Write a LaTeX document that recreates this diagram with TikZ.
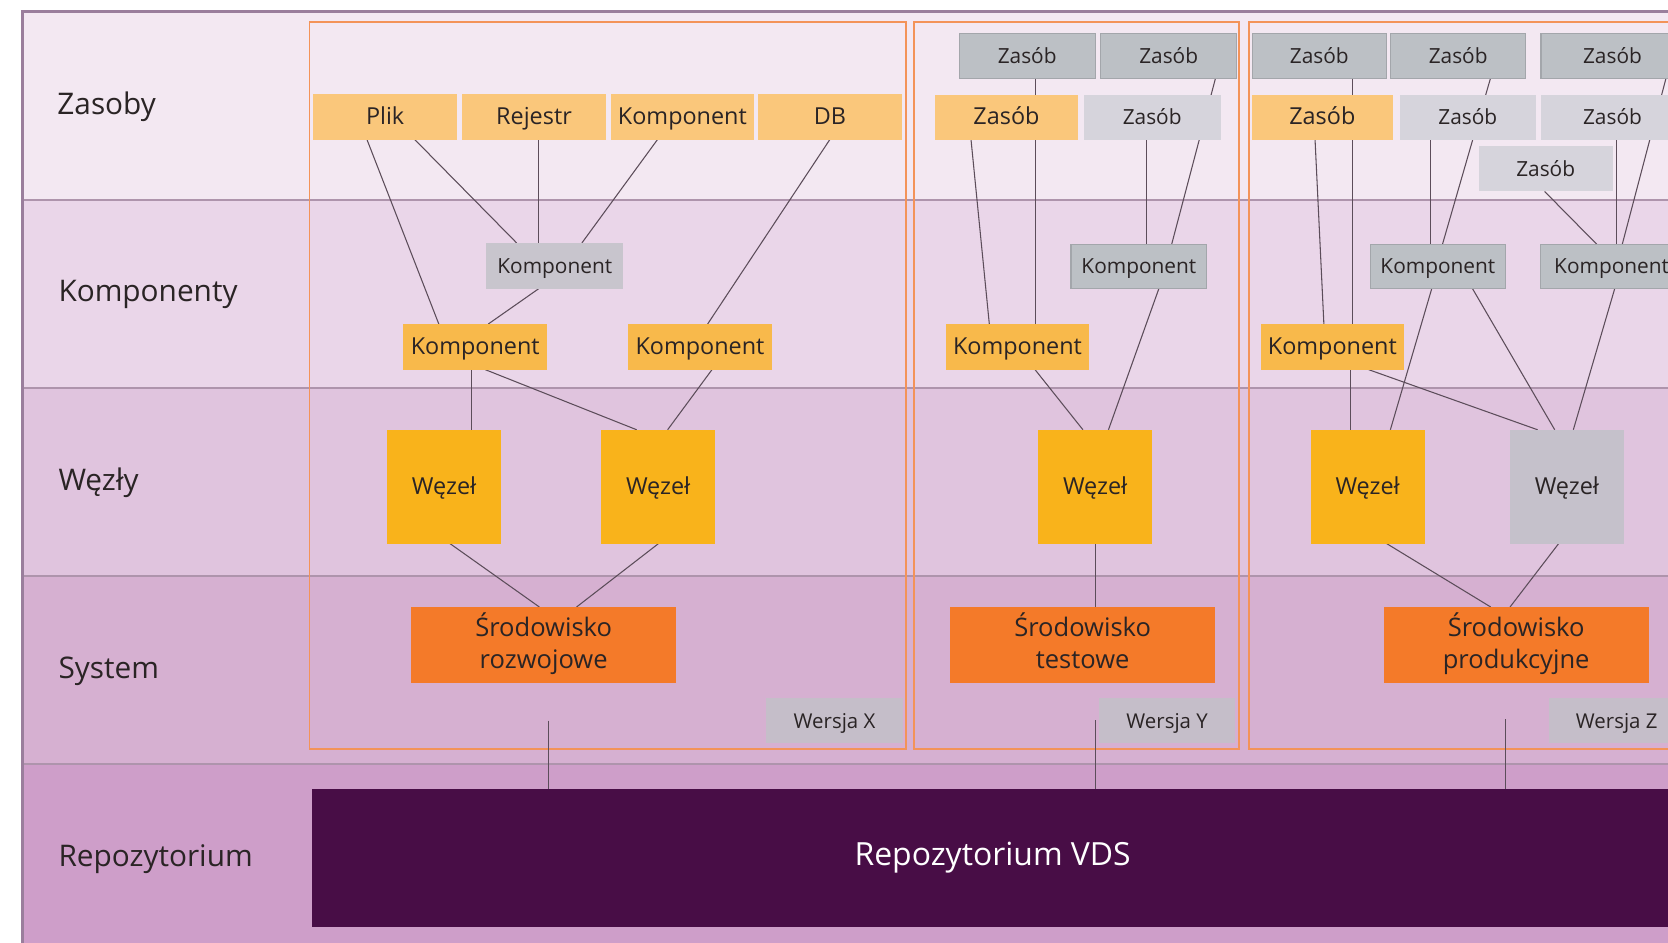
\documentclass[tikz,border=0pt]{standalone}
\usepackage{fontspec}
\setmainfont{Open Sans}
\definecolor{laneA}{HTML}{F3E8F2}
\definecolor{laneB}{HTML}{EAD6E9}
\definecolor{laneC}{HTML}{E0C4DE}
\definecolor{laneD}{HTML}{D6B0D1}
\definecolor{laneE}{HTML}{CE9EC9}
\definecolor{framecol}{HTML}{9A7E9C}
\definecolor{sepcol}{HTML}{AE94AC}
\definecolor{panelcol}{HTML}{F39359}
\definecolor{lorange}{HTML}{FAC77B}
\definecolor{morange}{HTML}{F8B94B}
\definecolor{wezelcol}{HTML}{F9B31B}
\definecolor{srodcol}{HTML}{F47A29}
\definecolor{grayA}{HTML}{BCC0C5}
\definecolor{grayAb}{HTML}{A3A6AB}
\definecolor{grayB}{HTML}{C8C5CD}
\definecolor{grayL}{HTML}{D6D4DC}
\definecolor{grayW}{HTML}{C5BEC9}
\definecolor{grayN}{HTML}{C5C1CB}
\definecolor{repocol}{HTML}{480D46}
\definecolor{edgecol}{HTML}{5C4D5A}
\definecolor{txtcol}{HTML}{2A2425}
\pgfdeclarelayer{bg}
\pgfdeclarelayer{edges}
\pgfsetlayers{bg,edges,main}
\newcommand\bx[7]{\node[#6, minimum width={(#4-#2)*0.5pt}, minimum height={(#5-#3)*0.5pt}] (#1) at ({(#2+#4)/2},{(#3+#5)/2}) {#7};}
\tikzset{
  every node/.style={inner sep=0pt, outer sep=0pt, text=txtcol},
  boxbase/.style={rectangle, text height=0.72em, text depth=0pt, align=center},
  lo/.style={boxbase, fill=lorange, font=\fontsize{11}{13}\selectfont},
  mo/.style={boxbase, fill=morange, font=\fontsize{11}{13}\selectfont},
  wz/.style={boxbase, fill=wezelcol, font=\fontsize{11}{13}\selectfont},
  wzg/.style={boxbase, fill=grayN, font=\fontsize{11}{13}\selectfont},
  sr/.style={boxbase, text height={0.72em+15pt}, fill=srodcol, font=\fontsize{12}{15}\selectfont},
  gz/.style={boxbase, fill=grayA, draw=grayAb, line width=0.5pt, font=\fontsize{9.8}{12}\selectfont},
  gk/.style={boxbase, fill=grayB, font=\fontsize{9.8}{12}\selectfont},
  lg/.style={boxbase, fill=grayL, font=\fontsize{9.8}{12}\selectfont},
  ver/.style={boxbase, fill=grayW, font=\fontsize{9.6}{12}\selectfont},
  repobox/.style={boxbase, fill=repocol, text=white, font=\fontsize{15}{17}\selectfont},
  edge/.style={draw=edgecol, line width=0.5pt},
  panel/.style={draw=panelcol, line width=0.8pt},
  sep/.style={draw=sepcol, line width=0.95pt},
  lanelabel/.style={anchor=base west, font=\fontsize{14}{16}\selectfont},
}
\begin{document}
\begin{tikzpicture}[x=0.5pt,y=-0.5pt]
\useasboundingbox (0,0) rectangle (1568,886);
% ---------- background lanes ----------
\begin{pgfonlayer}{bg}
\clip (0,0) rectangle (1568,886);
\fill[laneA] (21,11) rectangle (1700,188);
\fill[laneB] (21,188) rectangle (1700,365);
\fill[laneC] (21,365) rectangle (1700,541.5);
\fill[laneD] (21,541.5) rectangle (1700,718);
\fill[laneE] (21,718) rectangle (1700,1000);
\path[sep] (21,188) -- (1700,188);
\path[sep] (21,365) -- (1700,365);
\path[sep] (21,541.5) -- (1700,541.5);
\path[sep] (21,718) -- (1700,718);
\draw[framecol, line width=1.4pt] (21,1000) -- (21,11) -- (1700,11);
\end{pgfonlayer}
% ---------- nodes ----------
\begin{scope}
\clip (0,0) rectangle (1568,886);
\node[lanelabel] (lz) at (54,108) {Zasoby};
\node[lanelabel] (lk) at (55,283.5) {Komponenty};
\node[lanelabel] (lw) at (55,461.5) {Węzły};
\node[lanelabel] (ls) at (55,638) {System};
\node[lanelabel] (lr) at (55,815) {Repozytorium};
% panel 1
\bx{plik}{294.5}{88.7}{429.6}{131.3}{lo}{Plik}
\bx{rej}{434.5}{88.7}{569.5}{131.3}{lo}{Rejestr}
\bx{kz}{574}{88.7}{709}{131.3}{lo}{Komponent}
\bx{db}{713}{88.7}{847.5}{131.3}{lo}{DB}
\bx{kig}{457}{228.4}{586}{271.4}{gk}{Komponent}
\bx{kia}{379}{304.6}{514.5}{347.5}{mo}{Komponent}
\bx{kib}{590.6}{304.6}{725.5}{347.5}{mo}{Komponent}
\bx{wia}{364}{404}{471}{511}{wz}{Węzeł}
\bx{wib}{565}{404}{672.4}{511}{wz}{Węzeł}
\bx{si}{386.6}{570.6}{635.5}{641.7}{sr}{Środowisko\\rozwojowe}
\bx{vi}{720}{656}{849}{698.8}{ver}{Wersja X}
% panel 2
\bx{zIIa}{901.8}{31.7}{1029.4}{74}{gz}{Zasób}
\bx{zIIb}{1034.7}{31.7}{1162.5}{74}{gz}{Zasób}
\bx{zIIc}{878.6}{89}{1013.7}{131.3}{lo}{Zasób}
\bx{zIId}{1018.7}{89}{1147.5}{131.3}{lg}{Zasób}
\bx{kIIg}{1006.8}{229.7}{1134.4}{271}{gz}{Komponent}
\bx{kIIa}{889}{304.6}{1024}{347.5}{mo}{Komponent}
\bx{wII}{976}{404}{1083}{511}{wz}{Węzeł}
\bx{sII}{893}{570.6}{1142.5}{641.7}{sr}{Środowisko\\testowe}
\bx{vII}{1033}{656}{1161.3}{698.8}{ver}{Wersja Y}
% panel 3
\bx{zIIIa}{1177.3}{31.7}{1303}{74}{gz}{Zasób}
\bx{zIIIb}{1307.5}{31.7}{1434}{74}{gz}{Zasób}
\bx{zIIIc}{1448.6}{31.7}{1583}{74}{gz}{Zasób}
\bx{zIIId}{1176.6}{89}{1309.5}{131.3}{lo}{Zasób}
\bx{zIIIe}{1316}{89}{1443.6}{131.3}{lg}{Zasób}
\bx{zIIIf}{1448.6}{89}{1583}{131.3}{lg}{Zasób}
\bx{zIIIg}{1390}{137.5}{1516}{180}{lg}{Zasób}
\bx{kIIIg}{1288.5}{229.6}{1414.8}{271}{gz}{Komponent}
\bx{kIIIh}{1448}{229.6}{1582}{271}{gz}{Komponent}
\bx{kIIIa}{1185}{304.6}{1320}{347.5}{mo}{Komponent}
\bx{wIIIa}{1232}{404}{1339.3}{511}{wz}{Węzeł}
\bx{wIIIb}{1419.5}{404}{1526.4}{511}{wzg}{Węzeł}
\bx{sIII}{1300.7}{570.6}{1549.8}{641.7}{sr}{Środowisko\\produkcyjne}
\bx{vIII}{1456}{656}{1583.6}{698.8}{ver}{Wersja Z}
% repository
\bx{repo}{293.3}{741.7}{1573}{871.7}{repobox}{Repozytorium VDS}
\end{scope}
\coordinate (pi) at (515.8,677.5);
\coordinate (pII) at (1030,677);
\coordinate (pIII) at (1414.8,676.2);
% ---------- panels and connectors ----------
\begin{pgfonlayer}{edges}
\clip (0,0) rectangle (1568,886);
\path[panel] (291,20.7) rectangle (851.4,703.8);
\path[panel] (859,20.7) rectangle (1165,703.8);
\path[panel] (1173.8,20.7) rectangle (1700,703.8);
% panel 1
\path[edge] (plik.south -| 345,0) -- (kia.north -| 412.5,0);
\path[edge] (plik.south -| 390,0) -- (kig.north -| 485.7,0);
\path[edge] (rej.south -| 506.4,0) -- (kig.north -| 506.4,0);
\path[edge] (kz.south -| 618,0) -- (kig.north -| 547,0);
\path[edge] (db.south -| 780,0) -- (kib.north -| 665.2,0);
\path[edge] (kig.south -| 506.4,0) -- (kia.north -| 459,0);
\path[edge] (kia.south -| 442.8,0) -- (wia.north -| 442.8,0);
\path[edge] (kia.south -| 456.2,0) -- (wib.north -| 598.5,0);
\path[edge] (kib.south -| 669.3,0) -- (wib.north -| 627.6,0);
\path[edge] (wia.south -| 423,0) -- (si.north -| 507,0);
\path[edge] (wib.south -| 619,0) -- (si.north -| 542,0);
% panel 2
\path[edge] (zIIa.south -| 973.3,0) -- (kIIa.north -| 973.3,0);
\path[edge] (zIIc.south -| 912.8,0) -- (kIIa.north -| 930,0);
\path[edge] (zIIb.south -| 1142.5,0) -- (kIIg.north -| 1101.4,0);
\path[edge] (zIId.south -| 1077.6,0) -- (kIIg.north -| 1077.6,0);
\path[edge] (kIIg.south -| 1089.5,0) -- (wII.north -| 1042,0);
\path[edge] (kIIa.south -| 973,0) -- (wII.north -| 1018,0);
\path[edge] (wII.south -| 1030,0) -- (sII.north -| 1030,0);
% panel 3
\path[edge] (zIIIa.south -| 1271.6,0) -- (kIIIa.north -| 1271.6,0);
\path[edge] (zIIId.south -| 1236.2,0) -- (kIIIa.north -| 1244.5,0);
\path[edge] (zIIIb.south -| 1401,0) -- (kIIIg.north -| 1356,0);
\path[edge] (zIIIe.south -| 1345,0) -- (kIIIg.north -| 1345,0);
\path[edge] (zIIIg.south -| 1452,0) -- (kIIIh.north -| 1501,0);
\path[edge] (zIIIf.south -| 1520,0) -- (kIIIh.north -| 1520,0);
\path[edge] (zIIIc.south -| 1566,0) -- (kIIIh.north -| 1525,0);
\path[edge] (kIIIa.south -| 1269.7,0) -- (wIIIa.north -| 1269.7,0);
\path[edge] (kIIIa.south -| 1286.6,0) -- (wIIIb.north -| 1445.4,0);
\path[edge] (kIIIg.south -| 1346,0) -- (wIIIa.north -| 1307,0);
\path[edge] (kIIIg.south -| 1384,0) -- (wIIIb.north -| 1461.5,0);
\path[edge] (kIIIh.south -| 1518,0) -- (wIIIb.north -| 1479,0);
\path[edge] (wIIIa.south -| 1303.5,0) -- (sIII.north -| 1401.3,0);
\path[edge] (wIIIb.south -| 1465.2,0) -- (sIII.north -| 1419.5,0);
% to repository
\path[edge] (pi) -- (repo.north -| pi);
\path[edge] (pII) -- (repo.north -| pII);
\path[edge] (pIII) -- (repo.north -| pIII);
\end{pgfonlayer}
\end{tikzpicture}
\end{document}
